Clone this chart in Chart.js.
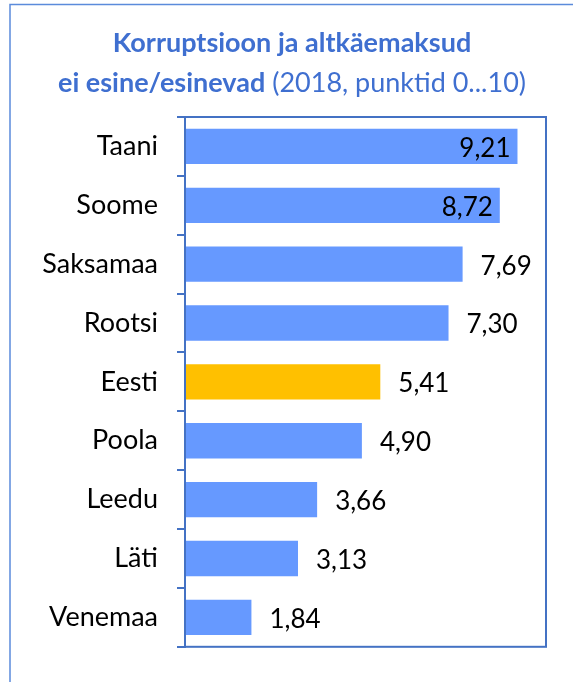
<!DOCTYPE html>
<html>
<head>
<meta charset="utf-8">
<script src="https://cdn.jsdelivr.net/npm/chart.js@4"></script>
<style>
html,body{margin:0;padding:0;background:#fff;}
#wrap{position:relative;width:573px;height:682px;}
</style>
</head>
<body>
<div id="wrap"><canvas id="c" width="573" height="682"></canvas></div>
<script>
const categories = ["Taani", "Soome", "Saksamaa", "Rootsi", "Eesti", "Poola", "Leedu", "Läti", "Venemaa"];
const values = [9.21, 8.72, 7.69, 7.30, 5.41, 4.90, 3.66, 3.13, 1.84];
const highlight = "Eesti";
const titleLine1 = "Korruptsioon ja altkäemaksud";
const titleLine2Bold = "ei esine/esinevad";
const titleLine2Normal = " (2018, punktid 0...10)";

const BLUE = "#4472C4";
const TITLE = "#3F6FD0";
const BAR = "#6699FF";
const GOLD = "#FFC000";
const FONT = "Lato";

const framePlugin = {
  id: "frame",
  beforeDraw(chart) {
    const ctx = chart.ctx;
    ctx.save();
    ctx.fillStyle = "#fff";
    ctx.fillRect(0, 0, chart.width, chart.height);
    ctx.strokeStyle = "#5B8BDB";
    ctx.lineWidth = 1.5;
    ctx.beginPath();
    ctx.moveTo(chart.width, 4.5);
    ctx.lineTo(10, 4.5);
    ctx.lineTo(10, chart.height);
    ctx.stroke();
    // title
    ctx.fillStyle = TITLE;
    ctx.textBaseline = "middle";
    ctx.textAlign = "center";
    const cx = 292;
    ctx.font = "bold 27px " + FONT;
    ctx.fillText(titleLine1, cx, 43);
    const wb = ctx.measureText(titleLine2Bold).width;
    ctx.font = "27px " + FONT;
    const wn = ctx.measureText(titleLine2Normal).width;
    const x0 = cx - (wb + wn) / 2;
    ctx.textAlign = "left";
    ctx.font = "bold 27px " + FONT;
    ctx.fillText(titleLine2Bold, x0, 83);
    ctx.font = "27px " + FONT;
    ctx.fillText(titleLine2Normal, x0 + wb, 83);
    ctx.restore();
  },
  afterDraw(chart) {
    const ctx = chart.ctx;
    const a = chart.chartArea;
    ctx.save();
    ctx.strokeStyle = BLUE;
    ctx.lineWidth = 2;
    ctx.strokeRect(a.left, a.top, a.right - a.left, a.bottom - a.top);
    // data labels
    const meta = chart.getDatasetMeta(0);
    ctx.font = "26px " + FONT;
    ctx.fillStyle = "#000";
    ctx.textBaseline = "middle";
    meta.data.forEach((bar, i) => {
      const txt = values[i].toFixed(2).replace(".", ",");
      const w = ctx.measureText(txt).width;
      let x = bar.x + 18;
      if (x + w > a.right - 4) {
        ctx.textAlign = "right";
        ctx.fillText(txt, bar.x - 7, bar.y + 2);
      } else {
        ctx.textAlign = "left";
        ctx.fillText(txt, x, bar.y + 2);
      }
    });
    ctx.restore();
  }
};

new Chart(document.getElementById("c"), {
  type: "bar",
  data: {
    labels: categories,
    datasets: [{
      data: values,
      backgroundColor: categories.map(c => c === highlight ? GOLD : BAR),
      borderWidth: 0,
      barPercentage: 0.6,
      categoryPercentage: 1.0
    }]
  },
  options: {
    indexAxis: "y",
    responsive: false,
    animation: false,
    devicePixelRatio: 1,
    layout: { padding: { top: 117, right: 27, bottom: 27, left: 0 } },
    plugins: { legend: { display: false }, title: { display: false }, tooltip: { enabled: false } },
    scales: {
      x: { display: false, min: 0, max: 10 },
      y: {
        afterFit(scale) { scale.width = 185; },
        border: { display: true, color: BLUE, width: 2 },
        grid: { offset: true, drawOnChartArea: false, drawTicks: true, tickLength: 8, color: BLUE, lineWidth: 2 },
        ticks: { color: "#000", padding: 19, font: { family: FONT, size: 27 } }
      }
    }
  },
  plugins: [framePlugin]
});
</script>
</body>
</html>
